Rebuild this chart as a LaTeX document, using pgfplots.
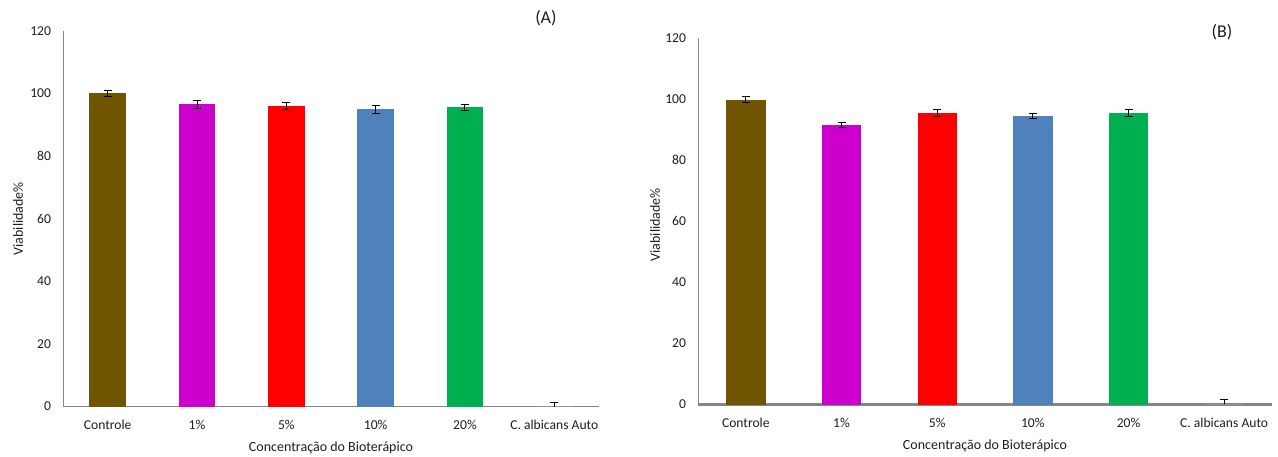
\documentclass[border=0pt]{standalone}
\usepackage{pgfplots}
\pgfplotsset{compat=1.18}
\usepackage{fontspec}
\setmainfont{Carlito}
\definecolor{cBrown}{RGB}{112,84,0}
\definecolor{cMag}{RGB}{204,0,204}
\definecolor{cRed}{RGB}{255,0,0}
\definecolor{cBlue}{RGB}{79,129,189}
\definecolor{cGreen}{RGB}{0,176,80}
\definecolor{axgray}{RGB}{134,134,134}
\definecolor{txt}{RGB}{30,30,30}
\pgfplotsset{
 panel/.style={
  scale only axis, xmin=-0.5, xmax=5.5, ymin=0, ymax=120,
  ytick={0,20,...,120}, xtick={0,...,5},
  xticklabels={Controle,1\%,5\%,10\%,20\%,C. albicans Auto},
  axis x line=bottom, axis y line=left,
  axis line style={draw=axgray,-},
  major tick length=0pt,
  ybar, bar width=0.4, bar shift=0pt,
  tick label style={font=\fontsize{6.8}{7.5}\selectfont, text=txt},
  yticklabel style={anchor=east, xshift=-2.5pt},
  xticklabel style={anchor=center},
  /pgf/number format/assume math mode=true,
  label style={font=\fontsize{7}{8}\selectfont, text=txt},
  ylabel={Viabilidade\%},
  xlabel={Concentração do Bioterápico},
  clip=false,
  error bars/y dir=both, error bars/y explicit,
  error bars/error bar style={black, line width=0.5pt},
  error bars/error mark options={black, mark size=2pt, line width=0.5pt, rotate=90},
 }
}
\begin{document}
\begin{tikzpicture}
\useasboundingbox (0,0) rectangle (639pt,228pt);
\begin{axis}[panel, at={(31.5pt,24.75pt)}, anchor=south west,
  width=268pt, height=187.75pt,
  xticklabel style={yshift=-9.25pt},
  ylabel style={at={(axis description cs:-0.084,0.5)}, anchor=center},
  xlabel style={at={(axis description cs:0.5,-0.1105)}, anchor=center}]
\addplot[fill=cBrown, draw=cBrown] coordinates {(0,100) +- (0,1.0)};
\addplot[fill=cMag, draw=cMag] coordinates {(1,96.4) +- (0,1.3)};
\addplot[fill=cRed, draw=cRed] coordinates {(2,96.0) +- (0,1.0)};
\addplot[fill=cBlue, draw=cBlue] coordinates {(3,94.8) +- (0,1.3)};
\addplot[fill=cGreen, draw=cGreen] coordinates {(4,95.5) +- (0,1.0)};
\addplot[fill=white, draw=none, error bars/y dir=plus] coordinates {(5,0) +- (0,1.2)};
\node[font=\fontsize{9}{10}\selectfont, text=txt] at (rel axis cs:0.901,1.035) {(A)};
\end{axis}
\begin{axis}[panel, at={(349pt,26pt)}, anchor=south west,
  width=287pt, height=183pt,
  x axis line style={line width=1.5pt},
  xticklabel style={yshift=-9.5pt},
  ylabel style={at={(axis description cs:-0.075,0.49)}, anchor=center},
  xlabel style={at={(axis description cs:0.5,-0.115)}, anchor=center}]
\addplot[fill=cBrown, draw=cBrown] coordinates {(0,99.7) +- (0,1.0)};
\addplot[fill=cMag, draw=cMag] coordinates {(1,91.5) +- (0,0.9)};
\addplot[fill=cRed, draw=cRed] coordinates {(2,95.4) +- (0,1.0)};
\addplot[fill=cBlue, draw=cBlue] coordinates {(3,94.4) +- (0,0.9)};
\addplot[fill=cGreen, draw=cGreen] coordinates {(4,95.4) +- (0,1.0)};
\addplot[fill=white, draw=none, error bars/y dir=plus] coordinates {(5,0) +- (0,1.5)};
\node[font=\fontsize{9}{10}\selectfont, text=txt] at (rel axis cs:0.913,1.016) {(B)};
\end{axis}
\end{tikzpicture}
\end{document}
